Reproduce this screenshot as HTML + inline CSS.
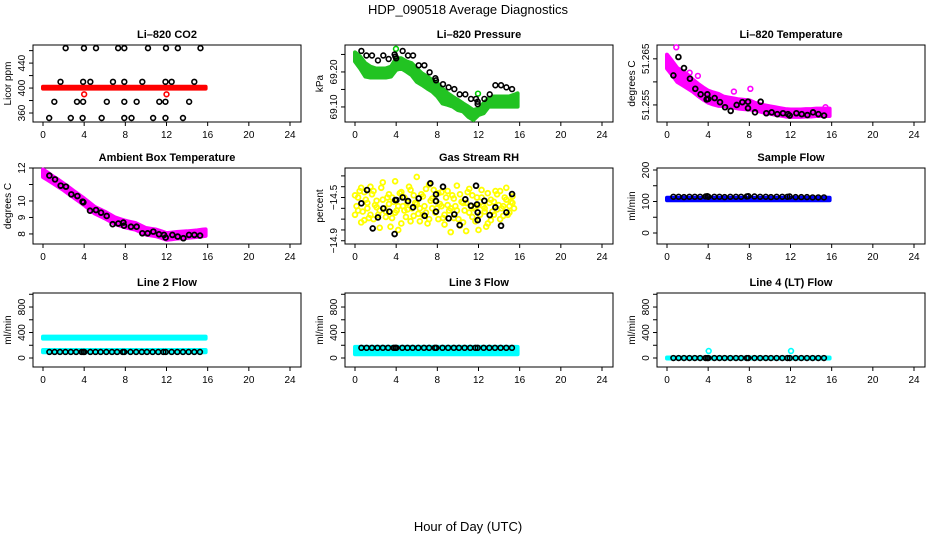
<!DOCTYPE html>
<html><head><meta charset="utf-8"><title>HDP_090518 Average Diagnostics</title>
<style>
html,body{margin:0;padding:0;background:#fff;}
svg{display:block;font-family:"Liberation Sans",Arial,sans-serif;}
</style></head>
<body>
<svg id="chart" width="936" height="540" viewBox="0 0 936 540">
<text x="468" y="14" font-size="13" text-anchor="middle">HDP_090518  Average Diagnostics</text>
<text x="468" y="531" font-size="13" text-anchor="middle">Hour of Day (UTC)</text>
</svg>
<script>
// ---------- data ----------
const xTicks = [0,4,8,12,16,20,24];
const bandT = [0,0.5,1,1.5,2,2.5,3,3.5,4,4.5,5,5.5,6,6.5,7,7.5,8,8.5,9,9.5,10,10.5,11,11.5,12,12.5,13,13.5,14,14.5,15,15.5,15.8];
const flowT = [0,4,8,12,15.8];
const blackT = [0.62,1.13,1.65,2.18,2.7,3.22,3.75,3.92,4.02,4.6,5.1,5.6,6.15,6.7,7.2,7.75,7.9,8.5,9.05,9.6,10.1,10.65,11.2,11.7,11.92,12.5,13.05,13.6,14.15,14.7,15.25];

// CO2
const co2BandLo = [399,399,399,399,399];
const co2BandHi = [402,402,402,402,402];
const co2OutT = [4.0,12.0];
const co2OutV = [390,390];
const co2T = [2.2,3.98,5.15,7.3,7.9,10.2,11.95,13.1,15.3,1.7,3.9,4.6,6.8,7.9,9.65,11.9,12.5,14.7,1.1,3.3,3.9,6.2,7.9,9.1,11.3,11.9,14.2,0.6,2.7,3.85,5.7,7.9,8.6,10.7,11.9,13.6];
const co2V = [464,464,464,464,464,464,464,464,464,410,410,410,410,410,410,410,410,410,378,378,378,378,378,378,378,378,378,352,352,352,352,352,352,352,352,352];

// Pressure
const presHi = [69.256,69.244,69.225,69.215,69.210,69.210,69.210,69.215,69.239,69.239,69.230,69.225,69.210,69.196,69.187,69.177,69.168,69.153,69.139,69.129,69.120,69.110,69.101,69.091,69.096,69.111,69.125,69.130,69.130,69.130,69.130,69.135,69.139];
const presLo = [69.230,69.210,69.187,69.184,69.184,69.184,69.184,69.187,69.206,69.210,69.201,69.191,69.172,69.163,69.153,69.144,69.130,69.110,69.106,69.101,69.091,69.087,69.072,69.063,69.077,69.082,69.101,69.101,69.101,69.101,69.101,69.101,69.101];
const presOutT = [3.98,11.95];
const presOutV = [69.266,69.138];
const presT = [0.62,1.11,1.65,2.23,2.75,3.27,3.85,3.92,4.0,4.63,5.15,5.64,6.19,6.74,7.25,7.81,7.87,8.55,9.1,9.65,10.17,10.72,11.27,11.76,11.92,11.92,12.57,13.09,13.64,14.19,14.71,15.26];
const presV = [69.260,69.247,69.247,69.233,69.247,69.237,69.250,69.244,69.239,69.260,69.247,69.247,69.219,69.219,69.199,69.182,69.176,69.165,69.156,69.151,69.136,69.136,69.123,69.123,69.115,69.108,69.123,69.136,69.162,69.162,69.156,69.151];

// Li-820 temperature
const tempLo = [51.2629,51.2615,51.2600,51.2593,51.2586,51.2579,51.2570,51.2562,51.2555,51.2551,51.2548,51.2548,51.2546,51.2544,51.2542,51.2541,51.2540,51.2539,51.2536,51.2533,51.2531,51.2529,51.2527,51.2525,51.2524,51.2524,51.2524,51.2525,51.2525,51.2526,51.2526,51.2526,51.2526];
const tempHi = [51.2659,51.2645,51.2630,51.2623,51.2616,51.2605,51.2596,51.2588,51.2581,51.2577,51.2574,51.2568,51.2566,51.2564,51.2562,51.2561,51.2560,51.2555,51.2552,51.2549,51.2547,51.2545,51.2543,51.2541,51.2540,51.2540,51.2540,51.2541,51.2541,51.2542,51.2542,51.2542,51.2542];
const tempOutT = [0.9,3.0,8.1,15.4,6.5,2.2];
const tempOutV = [51.2675,51.2613,51.2585,51.2545,51.2579,51.2620];
const tempT = [1.11,0.62,1.65,2.23,2.75,3.27,3.85,3.92,4.0,4.63,5.15,5.64,6.19,6.77,7.32,7.87,7.87,8.55,9.1,9.65,10.17,10.72,11.27,11.76,11.92,12.57,13.09,13.64,14.19,14.71,15.26];
const tempV = [51.2654,51.2614,51.2630,51.2607,51.2585,51.2573,51.2562,51.2573,51.2563,51.2565,51.2556,51.2545,51.2537,51.2550,51.2556,51.2557,51.2543,51.2534,51.2557,51.2532,51.2534,51.2530,51.2532,51.2530,51.2527,51.2532,51.2530,51.2528,51.2534,51.2530,51.2527];

// Ambient box temperature
const ambLo = [11.45,11.26,11.06,10.86,10.66,10.43,10.2,9.98,9.75,9.5,9.25,9.1,8.95,8.78,8.6,8.5,8.4,8.33,8.26,8.11,7.96,7.91,7.86,7.76,7.65,7.68,7.72,7.74,7.76,7.79,7.82,7.86,7.88];
const ambHi = [11.91,11.7,11.48,11.28,11.06,10.83,10.6,10.38,10.15,9.9,9.65,9.5,9.35,9.18,9.0,8.9,8.8,8.73,8.66,8.51,8.36,8.31,8.26,8.16,8.05,8.08,8.12,8.14,8.16,8.19,8.22,8.26,8.28];
const ambT = [0.62,1.17,1.72,2.23,2.75,3.34,3.85,3.92,4.57,5.15,5.64,6.19,6.77,7.32,7.81,7.87,8.55,9.1,9.65,10.17,10.72,11.27,11.76,11.92,12.57,13.09,13.64,14.19,14.71,15.26];
const ambV = [11.54,11.31,10.93,10.87,10.4,10.3,9.96,9.92,9.41,9.45,9.29,9.09,8.59,8.63,8.69,8.5,8.44,8.44,8.04,8.04,8.14,7.98,7.94,7.78,7.94,7.84,7.74,7.94,7.94,7.9];

// Gas stream RH
const rhT = [0,0.3,0.6,0.9,1.2,1.5,1.8,2.1,2.4,2.7,3.0,3.3,3.6,3.9,4.2,4.5,4.8,5.1,5.4,5.7,6.0,6.3,6.6,6.9,7.2,7.5,7.8,8.1,8.4,8.7,9.0,9.3,9.6,9.9,10.2,10.5,10.8,11.1,11.4,11.7,12.0,12.3,12.6,12.9,13.2,13.5,13.8,14.1,14.4,14.7,15.0,15.3];
const rhYellowA = [-14.48,-14.62,-14.41,-14.71,-14.55,-14.66,-14.44,-14.59,-14.78,-14.52,-14.63,-14.47,-14.69,-14.35,-14.58,-14.74,-14.5,-14.61,-14.43,-14.67,-14.56,-14.72,-14.49,-14.64,-14.38,-14.6,-14.53,-14.7,-14.45,-14.66,-14.57,-14.82,-14.51,-14.62,-14.47,-14.73,-14.55,-14.42,-14.68,-14.59,-14.8,-14.5,-14.63,-14.46,-14.71,-14.54,-14.61,-14.44,-14.67,-14.52,-14.58,-14.49];
const rhYellowB = [-14.66,-14.5,-14.73,-14.45,-14.6,-14.4,-14.7,-14.53,-14.62,-14.36,-14.68,-14.56,-14.5,-14.64,-14.8,-14.45,-14.62,-14.55,-14.72,-14.48,-14.31,-14.6,-14.66,-14.42,-14.7,-14.51,-14.64,-14.46,-14.58,-14.75,-14.44,-14.6,-14.69,-14.39,-14.76,-14.55,-14.81,-14.64,-14.48,-14.72,-14.57,-14.43,-14.6,-14.74,-14.52,-14.66,-14.47,-14.7,-14.58,-14.41,-14.64,-14.55];
const rhYellowC = [-14.58,-14.44,-14.63,-14.52,-14.69,-14.47,-14.57,-14.66,-14.41,-14.6,-14.5,-14.77,-14.54,-14.62,-14.46,-14.58,-14.68,-14.4,-14.6,-14.55,-14.65,-14.47,-14.58,-14.74,-14.53,-14.43,-14.6,-14.56,-14.69,-14.5,-14.62,-14.48,-14.58,-14.7,-14.54,-14.62,-14.45,-14.58,-14.6,-14.5,-14.66,-14.58,-14.77,-14.55,-14.63,-14.44,-14.57,-14.6,-14.5,-14.66,-14.54,-14.6];
const rhT2 = [0.15,0.45,0.75,1.05,1.35,1.65,1.95,2.25,2.55,2.85,3.15,3.45,3.75,4.05,4.35,4.65,4.95,5.25,5.55,5.85,6.15,6.45,6.75,7.05,7.35,7.65,7.95,8.25,8.55,8.85,9.15,9.45,9.75,10.05,10.35,10.65,10.95,11.25,11.55,11.85,12.15,12.45,12.75,13.05,13.35,13.65,13.95,14.25,14.55,14.85,15.15,15.45];
const rhBlackT = [0.62,1.17,1.72,2.23,2.75,3.34,3.85,3.92,4.02,4.63,5.15,5.64,6.19,6.77,7.32,7.87,7.87,7.87,8.55,9.1,9.65,10.17,10.72,11.27,11.76,11.85,11.92,11.92,12.57,13.09,13.64,14.19,14.71,15.26];
const rhBlackV = [-14.554,-14.431,-14.786,-14.684,-14.601,-14.631,-14.838,-14.523,-14.523,-14.499,-14.533,-14.591,-14.508,-14.669,-14.369,-14.471,-14.533,-14.631,-14.4,-14.693,-14.656,-14.755,-14.517,-14.576,-14.391,-14.564,-14.638,-14.709,-14.530,-14.662,-14.591,-14.761,-14.638,-14.468];

// Flows
const sampleLo = [104,104,104,104,104];
const sampleHi = [112,112,112,112,112];
const sampleBlack = [115,115,114,115,115,115,116,117,115,115,115,114,115,115,115,116,117,116,115,115,114,115,115,115,116,114,114,114,113,113,113];
const line2HiLo = [305,305,305,305,305];
const line2HiHi = [335,335,335,335,335];
const line2LoLo = [90,90,90,90,90];
const line2LoHi = [125,125,125,125,125];
const line2Black = [95,95,95,95,95,95,95,95,95,95,95,95,95,95,95,95,95,95,95,95,95,95,95,95,95,95,95,95,95,95,95];
const line3Lo = [60,60,60,60,60];
const line3Hi = [175,175,175,175,175];
const line3Black = [160,160,160,160,160,160,160,160,160,160,160,160,160,160,160,160,160,160,160,160,160,160,160,160,160,160,160,160,160,160,160];
const line4Lo = [-8,-8,-8,-8,-8];
const line4Hi = [8,8,8,8,8];
const line4Black = [0,0,0,0,0,0,0,0,0,0,0,0,0,0,0,0,0,0,0,0,0,0,0,0,0,0,0,0,0,0,0];
const line4OutT = [4.05,12.05];
const line4OutV = [110,110];

// ---------- rendering ----------
const NS = 'http://www.w3.org/2000/svg';
const svg = document.getElementById('chart');
function mk(parent, tag, attrs, txt){
  const e = document.createElementNS(NS, tag);
  for (const k in attrs) e.setAttribute(k, attrs[k]);
  if (txt !== undefined) e.textContent = txt;
  parent.appendChild(e);
  return e;
}
const colLefts = [33,345,657];
const rows = [[45,122],[168,244],[293,367]];

function makePanel(col,row,title,ylab,ylim,ticks,labels,name){
  const L = colLefts[col], R = L+268, T = rows[row][0], B = rows[row][1];
  const g = mk(svg,'g',{});
  
  
  const sx = h => L+10 + h*247/24;
  const sy = v => B - (v-ylim[0])/(ylim[1]-ylim[0])*(B-T);
  const t = mk(g,'text',{x:(L+R)/2,y:T-7,'font-size':11,'font-weight':'bold','text-anchor':'middle'},title);
  
  
  const yl = mk(g,'text',{x:0,y:0,'font-size':10,'text-anchor':'middle',transform:`translate(${L-22},${(T+B)/2}) rotate(-90)`},ylab);
  
  
  ticks.forEach(v=>{
    const y = sy(v);
    const tk = mk(g,'line',{x1:L-4,x2:L,y1:y,y2:y,stroke:'#000','stroke-width':1});
    
    
  });
  labels.forEach(lb=>{
    const y = sy(lb[0]);
    const tl = mk(g,'text',{x:0,y:0,'font-size':10,'text-anchor':'middle',transform:`translate(${L-8},${y}) rotate(-90)`},lb[1]);
    
    
  });
  xTicks.forEach(h=>{
    const x = sx(h);
    const tk = mk(g,'line',{x1:x,x2:x,y1:B,y2:B+4,stroke:'#000','stroke-width':1});
    
    
    const tl = mk(g,'text',{x:x,y:B+16,'font-size':10,'text-anchor':'middle'},String(h));
    
    
  });
  const box = mk(g,'rect',{x:L,y:T,width:R-L,height:B-T,fill:'none',stroke:'#000','stroke-width':1});
  
  
  const marks = mk(g,'g',{});
  
  
  return {g:marks,sx,sy};
}
function band(p,ts,lo,hi,color,name){
  const pts = ts.map((t,i)=>p.sx(t)+','+p.sy(hi[i])).concat(ts.map((t,i)=>p.sx(t)+','+p.sy(lo[i])).reverse());
  const poly = mk(p.g,'polygon',{points:pts.join(' '),fill:color,stroke:color,'stroke-width':4,'stroke-linejoin':'round'});
  
  
}
function pts(p,ts,vs,color,name,sw){
  ts.forEach((t,i)=>{
    const c = mk(p.g,'circle',{cx:p.sx(t),cy:p.sy(vs[i]),r:2.4,fill:'none',stroke:color,'stroke-width':sw||1.6});
    
    
  });
}

// Panel 1 CO2
let p = makePanel(0,0,'Li\u2013820 CO2','Licor ppm',[345.6,469],[360,380,400,420,440,460],[[360,'360'],[400,'400'],[440,'440']],'co2');
band(p,flowT,co2BandLo,co2BandHi,'#ff0000','co2-red-series');
pts(p,co2OutT,co2OutV,'#ff0000','co2-red-point');
pts(p,co2T,co2V,'#000','co2-hourly-point');

// Panel 2 Pressure
p = makePanel(1,0,'Li\u2013820 Pressure','kPa',[69.057,69.277],[69.10,69.15,69.20,69.25],[[69.10,'69.10'],[69.20,'69.20']],'pressure');
band(p,bandT,presLo,presHi,'#22c322','pressure-green-series');
pts(p,presOutT,presOutV,'#00cc00','pressure-green-point');
pts(p,presT,presV,'#000','pressure-hourly-point');

// Panel 3 Temperature
p = makePanel(2,0,'Li\u2013820 Temperature','degrees C',[51.2513,51.268],[51.255,51.26,51.265],[[51.255,'51.255'],[51.265,'51.265']],'li820-temperature');
band(p,bandT,tempLo,tempHi,'#ff00ff','temperature-magenta-series');
pts(p,tempOutT,tempOutV,'#ff00ff','temperature-magenta-point');
pts(p,tempT,tempV,'#000','temperature-hourly-point',1.8);

// Panel 4 Ambient
p = makePanel(0,1,'Ambient Box Temperature','degrees C',[7.39,12.0],[8,9,10,11,12],[[8,'8'],[9,'9'],[10,'10'],[12,'12']],'ambient-temperature');
band(p,bandT,ambLo,ambHi,'#ff00ff','ambient-magenta-series');
pts(p,ambT,ambV,'#000','ambient-hourly-point',1.8);

// Panel 5 Gas stream RH
p = makePanel(1,1,'Gas Stream RH','percent',[-14.93,-14.227],[-14.3,-14.4,-14.5,-14.6,-14.7,-14.8,-14.9],[[-14.5,'\u221214.5'],[-14.9,'\u221214.9']],'gas-stream-rh');
pts(p,rhT,rhYellowA,'#ffff00','rh-yellow-point',1.8);
pts(p,rhT,rhYellowB,'#ffff00','rh-yellow-point',1.8);
pts(p,rhT2,rhYellowC,'#ffff00','rh-yellow-point',1.8);
pts(p,rhBlackT,rhBlackV,'#000','rh-hourly-point',1.8);

// Panel 6 Sample flow
p = makePanel(2,1,'Sample Flow','ml/min',[-34.9,206.3],[0,50,100,150,200],[[0,'0'],[100,'100'],[200,'200']],'sample-flow');
band(p,flowT,sampleLo,sampleHi,'#0000ff','sample-flow-blue-series');
pts(p,blackT,sampleBlack,'#000','sample-flow-hourly-point');

// Panel 7 Line 2
p = makePanel(0,2,'Line 2 Flow','ml/min',[-141,1020],[0,200,400,600,800,1000],[[0,'0'],[400,'400'],[800,'800']],'line2-flow');
band(p,flowT,line2HiLo,line2HiHi,'#00ffff','line2-upper-cyan-series');
band(p,flowT,line2LoLo,line2LoHi,'#00ffff','line2-lower-cyan-series');
pts(p,blackT,line2Black,'#000','line2-hourly-point');

// Panel 8 Line 3
p = makePanel(1,2,'Line 3 Flow','ml/min',[-141,1020],[0,200,400,600,800,1000],[[0,'0'],[400,'400'],[800,'800']],'line3-flow');
band(p,flowT,line3Lo,line3Hi,'#00ffff','line3-cyan-series');
pts(p,blackT,line3Black,'#000','line3-hourly-point');

// Panel 9 Line 4
p = makePanel(2,2,'Line 4 (LT) Flow','ml/min',[-141,1020],[0,200,400,600,800,1000],[[0,'0'],[400,'400'],[800,'800']],'line4-flow');
band(p,flowT,line4Lo,line4Hi,'#00ffff','line4-cyan-series');
pts(p,line4OutT,line4OutV,'#00ffff','line4-cyan-point');
pts(p,blackT,line4Black,'#000','line4-hourly-point');
</script>
</body></html>
